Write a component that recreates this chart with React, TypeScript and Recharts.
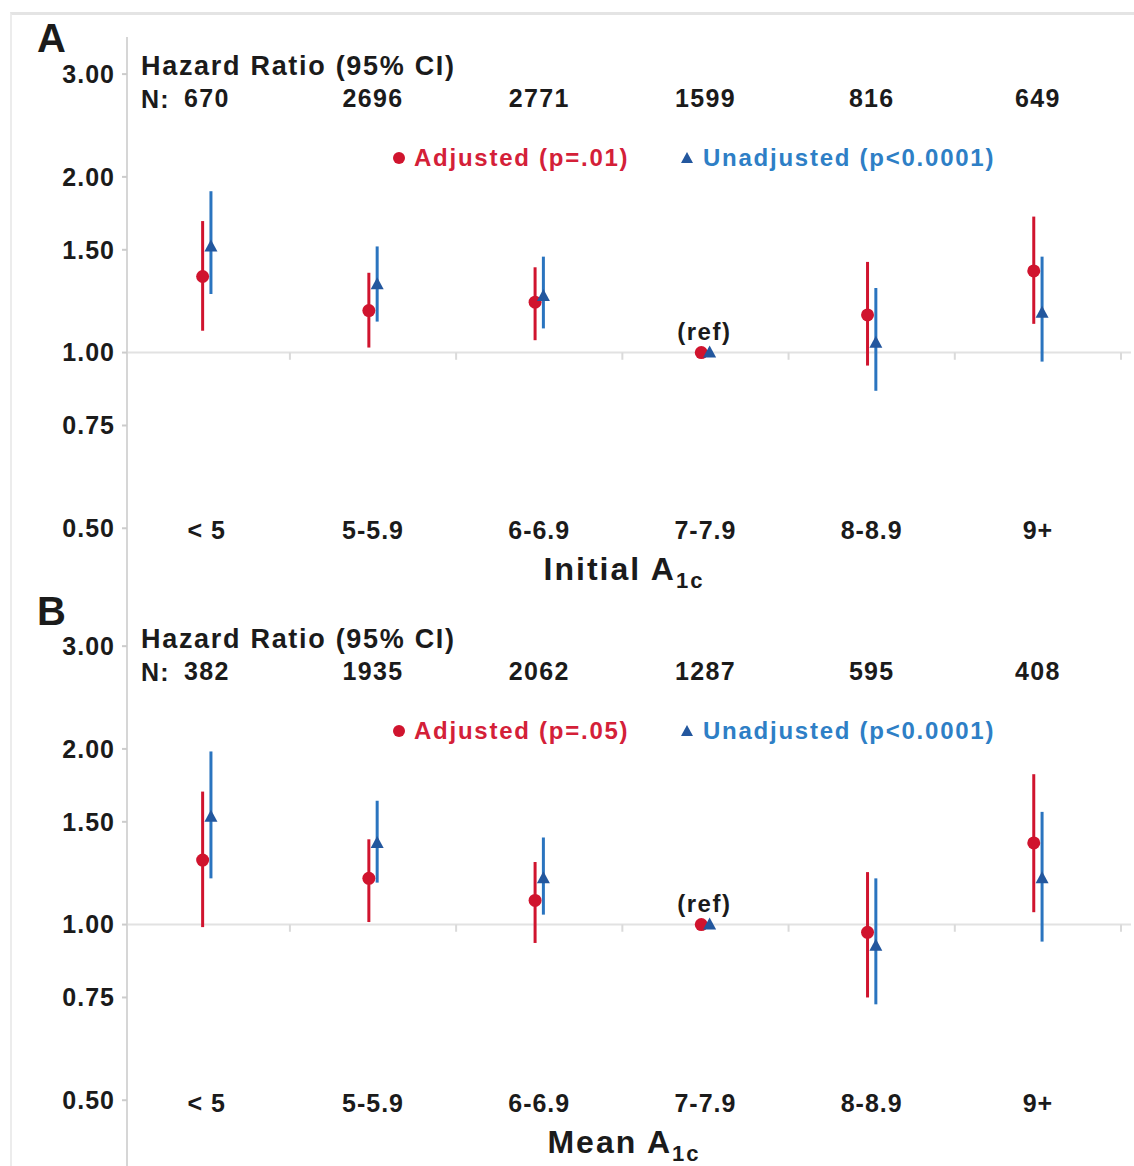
import React from 'react';
import { ScatterChart, Scatter, XAxis, YAxis, ErrorBar, ReferenceLine, LabelList, Legend } from 'recharts';

const categories = ['< 5', '5-5.9', '6-6.9', '7-7.9', '8-8.9', '9+'];
const refIndex = 3;
const yTicks = [0.5, 0.75, 1, 1.5, 2, 3];

// Panel A - initial A1c
const nInitial = [670, 2696, 2771, 1599, 816, 649];
const initialAdj = [1.35, 1.18, 1.22, 1.0, 1.16, 1.38];
const initialAdjLow = [1.09, 1.02, 1.05, 1.0, 0.95, 1.12];
const initialAdjHigh = [1.68, 1.37, 1.4, 1.0, 1.43, 1.71];
const initialUnadj = [1.52, 1.31, 1.25, 1.0, 1.04, 1.17];
const initialUnadjLow = [1.26, 1.13, 1.1, 1.0, 0.86, 0.965];
const initialUnadjHigh = [1.89, 1.52, 1.46, 1.0, 1.29, 1.46];

// Panel B - mean A1c
const nMean = [382, 1935, 2062, 1287, 595, 408];
const meanAdj = [1.29, 1.2, 1.1, 1.0, 0.97, 1.38];
const meanAdjLow = [0.99, 1.01, 0.93, 1.0, 0.75, 1.05];
const meanAdjHigh = [1.69, 1.4, 1.28, 1.0, 1.23, 1.81];
const meanUnadj = [1.53, 1.38, 1.2, 1.0, 0.92, 1.2];
const meanUnadjLow = [1.2, 1.18, 1.04, 1.0, 0.73, 0.935];
const meanUnadjHigh = [1.98, 1.63, 1.41, 1.0, 1.2, 1.56];

const RED = '#d0142e';
const RED_TEXT = '#d42038';
const BLUE = '#2a74bf';
const BLUE_DARK = '#23579e';
const BLUE_TEXT = '#2e7fc6';
const INK = '#1b1b1b';
const FONT = '"Liberation Sans", Arial, Helvetica, sans-serif';

const X_DOMAIN: [number, number] = [0.02, 6.06];
const catTicks = categories.map((_, i) => i + 0.5);
const bounds = categories.map((_, i) => i + 1);

const toPoints = (hr: number[], lo: number[], hi: number[], shift: number) =>
  hr.map((v, i) => ({
    x: i + 0.5 + shift,
    y: v,
    err: [v - lo[i], hi[i] - v],
    label: i === refIndex ? '(ref)' : '',
  }));

const Dot = (p: any) => <circle cx={p.cx} cy={p.cy} r={6.5} fill={RED} />;
const Tri = (p: any) => (
  <path d={`M${p.cx},${p.cy - 7} L${p.cx + 6.5},${p.cy + 5} L${p.cx - 6.5},${p.cy + 5} Z`} fill={BLUE_DARK} />
);

const RefLabel = (p: any) => {
  if (!p.value) return null;
  const cx = p.x + p.width / 2;
  const cy = p.y + p.height / 2;
  return (
    <text x={cx + 3} y={cy - 13} textAnchor="middle" fontSize={24} fontWeight={700} fill={INK} fontFamily={FONT} letterSpacing={1.5}>
      {p.value}
    </text>
  );
};

const boldText = { fontWeight: 700, fontFamily: FONT, color: INK, whiteSpace: 'nowrap' as const, position: 'absolute' as const };

function LegendBox({ pAdj }: { pAdj: string }) {
  return (
    <div style={{ position: 'relative', width: 640, height: 30, fontFamily: FONT, fontWeight: 700, fontSize: 24, letterSpacing: 1.75, lineHeight: '30px' }}>
      <svg width={14} height={30} style={{ position: 'absolute', left: 0, top: 0 }}>
        <circle cx={7} cy={15} r={6} fill={RED} />
      </svg>
      <span style={{ position: 'absolute', left: 22, top: 0, color: RED_TEXT, whiteSpace: 'nowrap' }}>{`Adjusted (${pAdj})`}</span>
      <svg width={14} height={30} style={{ position: 'absolute', left: 288, top: 0 }}>
        <path d="M7,9 L13,20 L1,20 Z" fill={BLUE_DARK} />
      </svg>
      <span style={{ position: 'absolute', left: 311, top: 0, color: BLUE_TEXT, whiteSpace: 'nowrap' }}>Unadjusted (p&lt;0.0001)</span>
    </div>
  );
}

interface PanelProps {
  top: number;
  height: number;
  marginTop: number;
  domain: [number, number];
  n: number[];
  adj: ReturnType<typeof toPoints>;
  unadj: ReturnType<typeof toPoints>;
  pAdj: string;
  catDy: number;
  nDy: number;
  letter: string;
  title: string;
  offset: number;
}

function Panel(props: PanelProps) {
  const { top, height, marginTop, domain, n, adj, unadj, pAdj, catDy, nDy, letter, title, offset } = props;
  return (
    <div style={{ position: 'absolute', left: 0, top, width: 1134, height }}>
      <ScatterChart width={1134} height={height} margin={{ top: marginTop, right: 3, bottom: 0, left: 0 }}>
        <XAxis
          xAxisId="cat"
          dataKey="x"
          type="number"
          domain={X_DOMAIN}
          allowDataOverflow
          ticks={catTicks}
          interval={0}
          height={1}
          tickSize={0}
          tickMargin={0}
          axisLine={false}
          tickLine={false}
          tick={(t: any) => {
            const i = Math.floor(t.payload.value);
            return (
              <g fontWeight={700} fill={INK} fontFamily={FONT} fontSize={25}>
                <text x={t.x} y={t.y + catDy} textAnchor="middle" letterSpacing={1}>
                  {categories[i]}
                </text>
                <text x={t.x} y={t.y + nDy} textAnchor="middle" letterSpacing={1.3}>
                  {n[i]}
                </text>
              </g>
            );
          }}
        />
        <YAxis
          type="number"
          dataKey="y"
          scale="log"
          domain={domain}
          allowDataOverflow
          ticks={yTicks}
          interval={0}
          width={127}
          tickFormatter={(v: number) => v.toFixed(2)}
          tick={{ fontSize: 25, fontWeight: 700, fill: INK, fontFamily: FONT, letterSpacing: 1 }}
          tickSize={5}
          tickMargin={7}
          axisLine={{ stroke: '#d6d6d6', strokeWidth: 2 }}
          tickLine={{ stroke: '#cccccc', strokeWidth: 2 }}
        />
        <ReferenceLine xAxisId="cat" y={1} stroke="#e2e2e2" strokeWidth={2} />
        {bounds.map((b) => (
          <ReferenceLine
            key={b}
            xAxisId="cat"
            segment={[{ x: b, y: 1 }, { x: b, y: 0.972 }]}
            stroke="#dadada"
            strokeWidth={2}
          />
        ))}
        <Scatter xAxisId="cat" data={adj} shape={Dot} isAnimationActive={false}>
          <ErrorBar dataKey="err" direction="y" width={0} stroke={RED} strokeWidth={3} />
          <LabelList dataKey="label" content={RefLabel} />
        </Scatter>
        <Scatter xAxisId="cat" data={unadj} shape={Tri} isAnimationActive={false}>
          <ErrorBar dataKey="err" direction="y" width={0} stroke={BLUE} strokeWidth={3} />
        </Scatter>
        <Legend
          verticalAlign="middle"
          align="center"
          content={() => <LegendBox pAdj={pAdj} />}
          wrapperStyle={{ top: 143 + offset - top, left: 392, width: 640 }}
        />
      </ScatterChart>
      <div style={{ ...boldText, left: 37, top: 18 + offset - top, fontSize: 40, lineHeight: '40px' }}>{letter}</div>
      <div style={{ ...boldText, left: 141, top: 53 + offset - top, fontSize: 27, lineHeight: '27px', letterSpacing: 1.7 }}>
        Hazard Ratio (95% CI)
      </div>
      <div style={{ ...boldText, left: 141, top: 87 + offset - top, fontSize: 25, lineHeight: '25px', letterSpacing: 1.3 }}>N:</div>
      <div
        style={{ ...boldText, left: 624, top: 553 + offset - top, transform: 'translateX(-50%)', fontSize: 32, lineHeight: '32px', letterSpacing: 2 }}
      >
        {title} A
        <span style={{ fontSize: 22, position: 'relative', top: 8 }}>1c</span>
      </div>
    </div>
  );
}

export default function App() {
  const aAdj = toPoints(initialAdj, initialAdjLow, initialAdjHigh, -0.025);
  const aUnadj = toPoints(initialUnadj, initialUnadjLow, initialUnadjHigh, 0.025);
  const bAdj = toPoints(meanAdj, meanAdjLow, meanAdjHigh, -0.025);
  const bUnadj = toPoints(meanUnadj, meanUnadjLow, meanUnadjHigh, 0.025);
  return (
    <div style={{ position: 'absolute', left: 0, top: 0, width: 1134, height: 1166, background: '#fff', overflow: 'hidden', fontFamily: FONT }}>
      <div style={{ position: 'absolute', left: 10, top: 12, width: 1124, height: 1154, borderTop: '3px solid #e4e4e4', borderLeft: '2px solid #ececec' }} />
      <Panel
        top={0}
        height={591}
        marginTop={37}
        domain={[0.3919, 3.473]}
        n={nInitial}
        adj={aAdj}
        unadj={aUnadj}
        pAdj="p=.01"
        catDy={-51}
        nDy={-483}
        letter="A"
        title="Initial"
        offset={0}
      />
      <Panel
        top={583}
        height={584}
        marginTop={6}
        domain={[0.3857, 3.759]}
        n={nMean}
        adj={bAdj}
        unadj={bUnadj}
        pAdj="p=.05"
        catDy={-54}
        nDy={-486}
        letter="B"
        title="Mean"
        offset={573}
      />
    </div>
  );
}
